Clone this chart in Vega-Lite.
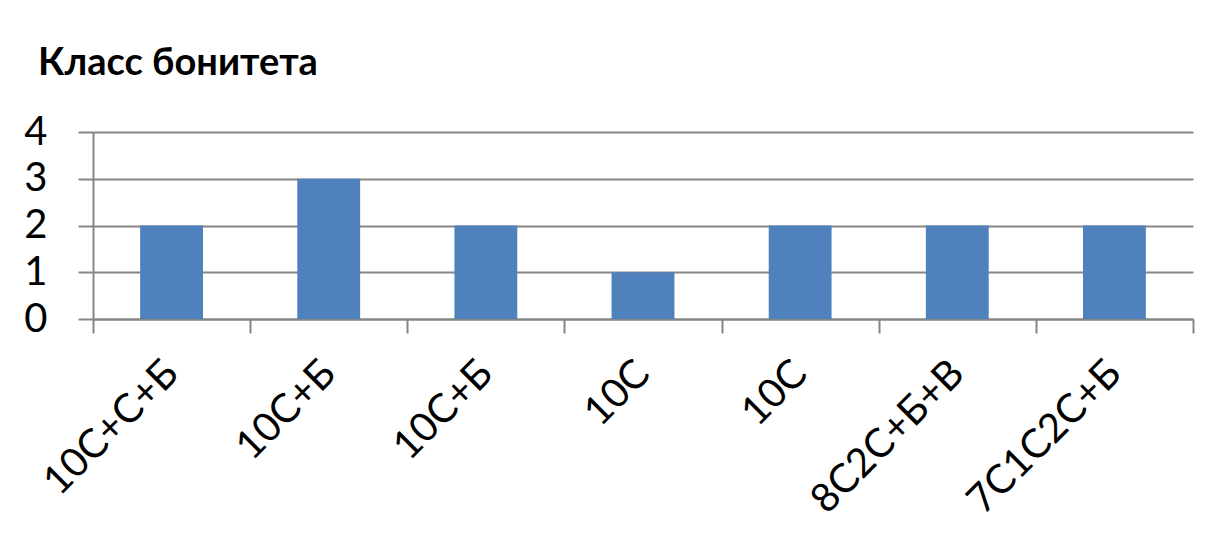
{
  "$schema": "https://vega.github.io/schema/vega-lite/v6.json",
  "width": 1100,
  "height": 187,
  "autosize": {"type": "none"},
  "padding": {"left": 93, "top": 132, "right": 20, "bottom": 223},
  "background": "white",
  "title": {
    "text": "Класс бонитета",
    "anchor": "start",
    "frame": "group",
    "font": "Lato",
    "fontSize": 38,
    "fontWeight": "bold",
    "color": "black",
    "baseline": "alphabetic",
    "dx": -55,
    "dy": 39,
    "offset": 38
  },
  "data": {
    "values": [
      {"idx": 1, "name": "10С+С+Б", "value": 2},
      {"idx": 2, "name": "10С+Б", "value": 3},
      {"idx": 3, "name": "10С+Б", "value": 2},
      {"idx": 4, "name": "10С", "value": 1},
      {"idx": 5, "name": "10С", "value": 2},
      {"idx": 6, "name": "8С2С+Б+В", "value": 2},
      {"idx": 7, "name": "7С1С2С+Б", "value": 2}
    ]
  },
  "mark": {"type": "bar", "color": "#4F81BD", "width": {"band": 0.4}},
  "encoding": {
    "x": {
      "field": "idx",
      "type": "ordinal",
      "scale": {"paddingInner": 0, "paddingOuter": 0},
      "axis": {
        "title": null,
        "labelExpr": "['','10С+С+Б','10С+Б','10С+Б','10С','10С','8С2С+Б+В','7С1С2С+Б'][datum.value]",
        "labelAngle": -45,
        "labelAlign": "right",
        "labelBaseline": "middle",
        "labelFont": "Lato",
        "labelFontSize": 40,
        "labelColor": "black",
        "labelLimit": 0,
        "labelPadding": 34,
        "tickBand": "extent",
        "tickSize": 14,
        "tickColor": "#868686",
        "tickWidth": 2,
        "domainColor": "#868686",
        "domainWidth": 2,
        "grid": false
      }
    },
    "y": {
      "field": "value",
      "type": "quantitative",
      "scale": {"domain": [0, 4]},
      "axis": {
        "title": null,
        "values": [0, 1, 2, 3, 4],
        "labelFont": "Lato",
        "labelFontSize": 40,
        "labelColor": "black",
        "labelPadding": 31,
        "tickSize": 15,
        "tickColor": "#868686",
        "tickWidth": 2,
        "gridColor": "#868686",
        "gridWidth": 2,
        "domainColor": "#868686",
        "domainWidth": 2
      }
    }
  },
  "config": {"view": {"stroke": null}}
}
